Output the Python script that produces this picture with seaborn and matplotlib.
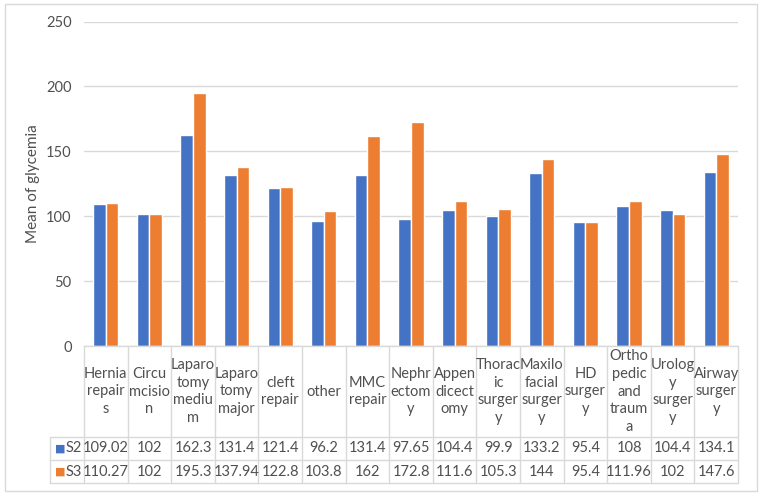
import numpy as np
import pandas as pd
import seaborn as sns
import matplotlib.pyplot as plt
from matplotlib.patches import Rectangle
import matplotlib.transforms as mtransforms

categories = ["Hernia\nrepair\ns", "Circu\nmcisio\nn", "Laparo\ntomy\nmediu\nm", "Laparo\ntomy\nmajor",
              "cleft\nrepair", "other", "MMC\nrepair", "Nephr\nectom\ny", "Appen\ndicect\nomy",
              "Thorac\nic\nsurger\ny", "Maxilo\nfacial\nsurger\ny", "HD\nsurger\ny",
              "Ortho\npedic\nand\ntraum\na", "Urolog\ny\nsurger\ny", "Airway\nsurger\ny"]
s2 = [109.02, 102, 162.3, 131.4, 121.4, 96.2, 131.4, 97.65, 104.4, 99.9, 133.2, 95.4, 108, 104.4, 134.1]
s3 = [110.27, 102, 195.3, 137.94, 122.8, 103.8, 162, 172.8, 111.6, 105.3, 144, 95.4, 111.96, 102, 147.6]
series = ["S2", "S3"]
yticks = [0, 50, 100, 150, 200, 250]

colors = ["#4472C4", "#ED7D31"]
grid_c = "#D9D9D9"
text_c = "#505050"

df = pd.DataFrame({
    "cat": list(range(len(categories))) * 2,
    "value": s2 + s3,
    "series": ["S2"] * len(s2) + ["S3"] * len(s3),
})

sns.set_style("white")
plt.rcParams["font.family"] = ["Lato", "DejaVu Sans"]

W, H = 762, 497
fig = plt.figure(figsize=(W / 100, H / 100), dpi=100)
left, right, top, base = 84, 738, 21.5, 346
ax = fig.add_axes([left / W, 1 - base / H, (right - left) / W, (base - top) / H])

sns.barplot(data=df, x="cat", y="value", hue="series", palette=colors, width=0.58,
            saturation=1, legend=False, ax=ax)

ax.set_xlim(-0.5, len(categories) - 0.5)
ax.set_ylim(0, 250)
ax.set_yticks(yticks)
ax.yaxis.grid(True, color=grid_c, linewidth=1)
ax.set_axisbelow(True)
ax.set_xticks([])
ax.set_xlabel("")
ax.tick_params(axis="y", length=0, pad=9, labelsize=10.5, labelcolor=text_c)
ax.set_ylabel("Mean of glycemia", fontsize=11, color=text_c)
ax.yaxis.set_label_coords(-0.067, 0.5)
for s in ax.spines.values():
    s.set_visible(False)

# data table below the plot
trans = mtransforms.blended_transform_factory(ax.transData, ax.transAxes)
axh = base - top
y_hdr = -(437 - base) / axh
y_s2 = -(460 - base) / axh
y_s3 = -(483 - base) / axh
ncat = len(categories)
col_w = (right - left) / ncat
x_leg = -0.5 - 34 / col_w

line_kw = dict(color=grid_c, linewidth=1, transform=trans, clip_on=False)
ax.plot([-0.5, ncat - 0.5], [0, 0], **line_kw)
ax.plot([-0.5, ncat - 0.5], [y_hdr, y_hdr], **line_kw)
ax.plot([x_leg, -0.5], [y_hdr, y_hdr], **line_kw)
for yy in (y_s2, y_s3):
    ax.plot([x_leg, ncat - 0.5], [yy, yy], **line_kw)
ax.plot([x_leg, x_leg], [y_hdr, y_s3], **line_kw)
for i in range(ncat + 1):
    ax.plot([i - 0.5, i - 0.5], [0, y_s3], **line_kw)

for i, lab in enumerate(categories):
    ax.text(i, y_hdr / 2, lab, transform=trans, ha="center", va="center",
            fontsize=10.5, color=text_c, linespacing=1.35)
    ax.text(i, (y_hdr + y_s2) / 2, f"{s2[i]:g}", transform=trans, ha="center", va="center",
            fontsize=10.5, color=text_c)
    ax.text(i, (y_s2 + y_s3) / 2, f"{s3[i]:g}", transform=trans, ha="center", va="center",
            fontsize=10.5, color=text_c)

for name, col, (ya, yb) in zip(series, colors, [(y_hdr, y_s2), (y_s2, y_s3)]):
    ym = (ya + yb) / 2
    ax.text(x_leg + 0.12, ym, "\u25A0", transform=trans, ha="left", va="center",
            fontsize=8, color=col, family="DejaVu Sans")
    ax.text(x_leg + 0.36, ym, name, transform=trans, ha="left", va="center",
            fontsize=10.5, color=text_c)

# chart border
fig.patches.append(Rectangle((5 / W, 1 - 491 / H), 752 / W, 487 / H, transform=fig.transFigure,
                             fill=False, edgecolor=grid_c, linewidth=1))

fig.savefig("out.png", dpi=100)
